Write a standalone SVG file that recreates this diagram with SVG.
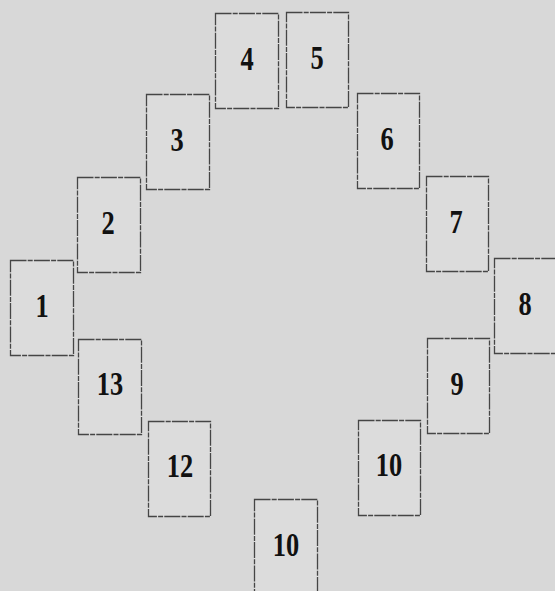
<svg xmlns="http://www.w3.org/2000/svg" width="555" height="591" viewBox="0 0 555 591">
<style>
.card rect{fill:#dcdcdc;stroke:#454545;stroke-width:1.3;stroke-dasharray:16 1.2 5 1.2}
.card text{font-family:"Liberation Serif","Times New Roman",serif;font-weight:bold;font-size:33px;fill:#111;text-anchor:middle}
</style>
<rect x="0" y="0" width="555" height="591" fill="#d8d8d8"/>
<g id="connectors"/>
<g id="card4" class="card"><rect x="215.5" y="13.5" width="63" height="95"/><text transform="translate(247,70) scale(0.8,1)">4</text></g>
<g id="card5" class="card"><rect x="286.5" y="12.5" width="62" height="95"/><text transform="translate(317,69) scale(0.8,1)">5</text></g>
<g id="card3" class="card"><rect x="146.5" y="94.5" width="63" height="95"/><text transform="translate(177,151) scale(0.8,1)">3</text></g>
<g id="card6" class="card"><rect x="357.5" y="93.5" width="62" height="95"/><text transform="translate(387,150) scale(0.8,1)">6</text></g>
<g id="card2" class="card"><rect x="77.5" y="177.5" width="63" height="95"/><text transform="translate(108,234) scale(0.8,1)">2</text></g>
<g id="card7" class="card"><rect x="426.5" y="176.5" width="62" height="95"/><text transform="translate(456,233) scale(0.8,1)">7</text></g>
<g id="card1" class="card"><rect x="10.5" y="260.5" width="63" height="95"/><text transform="translate(42,317) scale(0.8,1)">1</text></g>
<g id="card8" class="card"><rect x="494.5" y="258.5" width="62" height="95"/><text transform="translate(525,315) scale(0.8,1)">8</text></g>
<g id="card13" class="card"><rect x="78.5" y="339.5" width="63" height="95"/><text transform="translate(110,395) scale(0.8,1)">13</text></g>
<g id="card9" class="card"><rect x="427.5" y="338.5" width="62" height="95"/><text transform="translate(457,395) scale(0.8,1)">9</text></g>
<g id="card12" class="card"><rect x="148.5" y="421.5" width="62" height="95"/><text transform="translate(180,477) scale(0.8,1)">12</text></g>
<g id="card10a" class="card"><rect x="358.5" y="420.5" width="62" height="95"/><text transform="translate(389,476) scale(0.8,1)">10</text></g>
<g id="card10b" class="card"><rect x="254.5" y="499.5" width="63" height="95"/><text transform="translate(286,556) scale(0.8,1)">10</text></g>
</svg>
